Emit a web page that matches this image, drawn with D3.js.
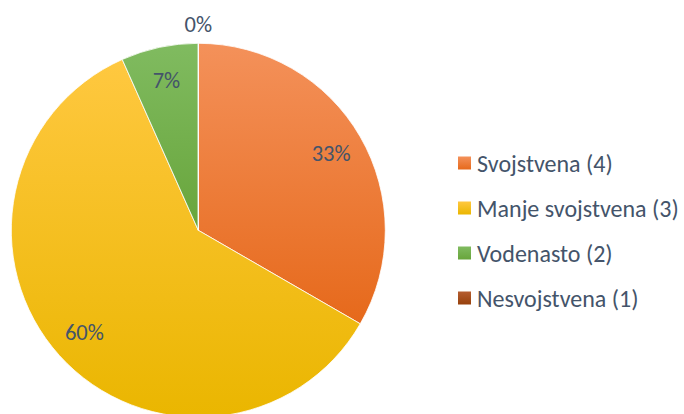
<!DOCTYPE html>
<html><head><meta charset="utf-8">
<script src="https://cdn.jsdelivr.net/npm/d3@7"></script>
<style>html,body{margin:0;padding:0;background:#fff;overflow:hidden}</style>
</head><body>
<svg id="c" width="684" height="414"></svg>
<script>
const categories = ["Svojstvena (4)", "Manje svojstvena (3)", "Vodenasto (2)", "Nesvojstvena (1)"];
const values = [5, 9, 1, 0];
const labels = ["33%", "60%", "7%", "0%"];
const colorsTop = ["#F4915A", "#FFC840", "#80BB60", "#B55D30"];
const colorsBottom = ["#E6691B", "#EAB600", "#68A53B", "#97410C"];

const svg = d3.select("#c");
const cx = 198.3, cy = 230.3, R = 187;
const font = "Carlito, Lato, 'Open Sans', sans-serif";
const textColor = "#44546A";

const defs = svg.append("defs");
categories.forEach((c, i) => {
  const g = defs.append("linearGradient").attr("id", "g" + i)
    .attr("x1", 0).attr("y1", 0).attr("x2", 0).attr("y2", 1);
  g.append("stop").attr("offset", "0%").attr("stop-color", colorsTop[i]);
  g.append("stop").attr("offset", "100%").attr("stop-color", colorsBottom[i]);
});

const pie = d3.pie().sort(null).value(d => d)(values);
const arc = d3.arc().innerRadius(0).outerRadius(R);
const g = svg.append("g").attr("transform", `translate(${cx},${cy})`);
g.selectAll("path.s").data(pie).join("path").attr("class", "s")
  .attr("d", arc)
  .attr("fill", (d, i) => `url(#g${i})`)
  .attr("stroke", "#fff").attr("stroke-width", 0.8);

const inLab = d3.arc().innerRadius(R * 0.82).outerRadius(R * 0.82);
const outLab = d3.arc().innerRadius(R * 1.1).outerRadius(R * 1.1);
g.selectAll("text.l").data(pie).join("text").attr("class", "l")
  .attr("transform", d => `translate(${(d.value > 0 ? inLab : outLab).centroid(d)})`)
  .attr("text-anchor", "middle").attr("dominant-baseline", "central")
  .attr("font-family", font).attr("font-size", 22.5).attr("fill", textColor)
  .text((d, i) => labels[i]);

const leg = svg.append("g").attr("transform", "translate(458,163)");
const rowH = 45;
const rows = leg.selectAll("g").data(categories).join("g")
  .attr("transform", (d, i) => `translate(0,${i * rowH})`);
rows.append("rect").attr("x", 0).attr("y", -6.5).attr("width", 13).attr("height", 13)
  .attr("fill", (d, i) => `url(#g${i})`);
rows.append("text").attr("x", 19).attr("y", 0).attr("dominant-baseline", "central")
  .attr("font-family", font).attr("font-size", 24).attr("fill", textColor)
  .text(d => d);
</script>
</body></html>
